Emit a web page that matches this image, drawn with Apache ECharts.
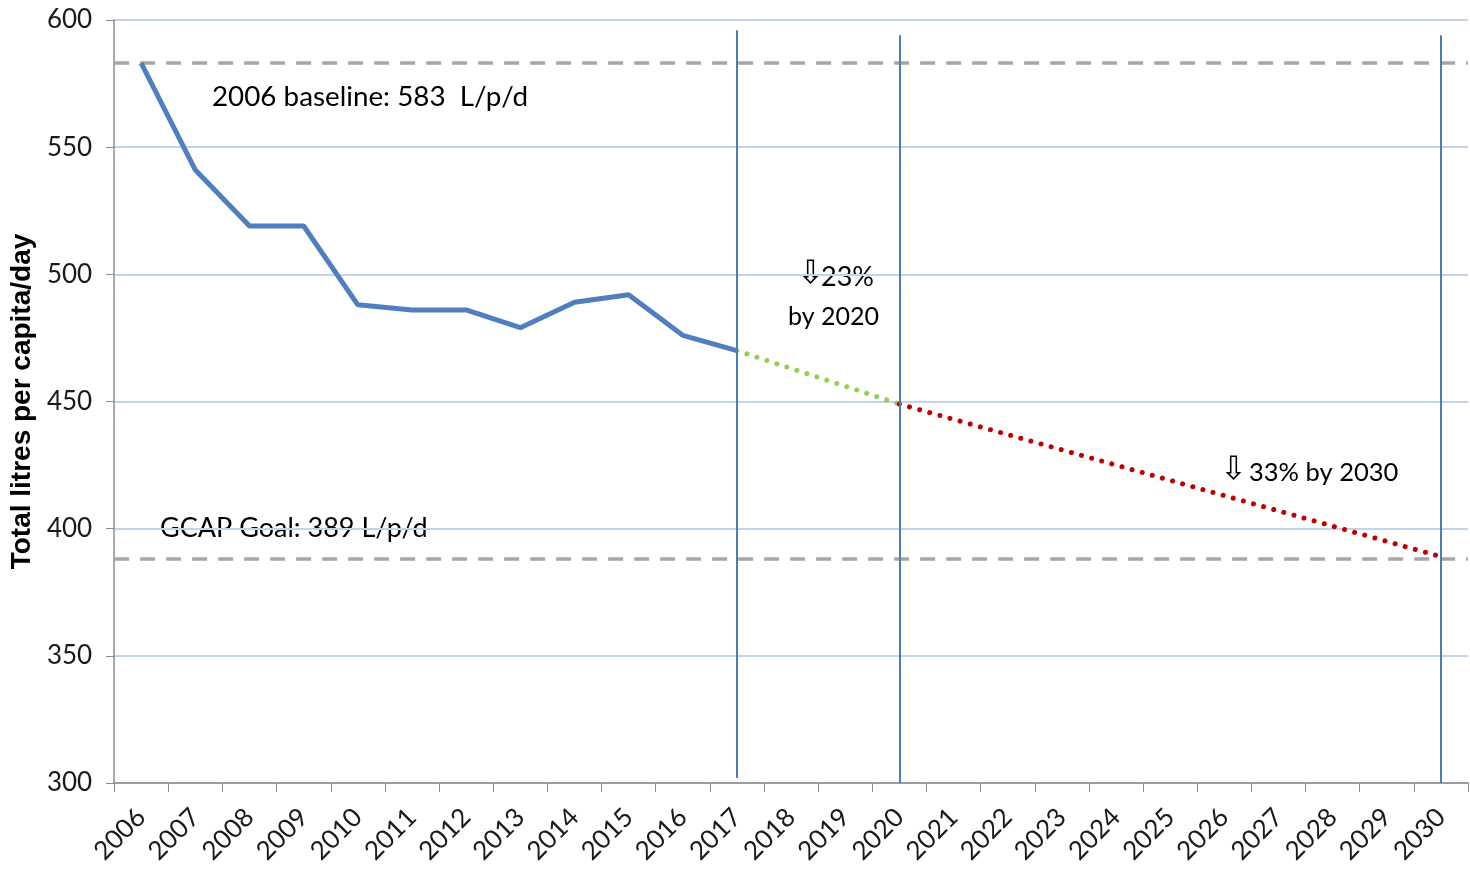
<!DOCTYPE html>
<html>
<head>
<meta charset="utf-8">
<script src="https://cdn.jsdelivr.net/npm/echarts@6/dist/echarts.min.js"></script>
<style>
html,body{margin:0;padding:0;background:#fff;}
#chart{width:1470px;height:877px;}
</style>
</head>
<body>
<div id="chart"></div>
<script>
// ---- data ----
const years = ['2006','2007','2008','2009','2010','2011','2012','2013','2014','2015','2016','2017','2018','2019','2020','2021','2022','2023','2024','2025','2026','2027','2028','2029','2030'];
const actual = [583, 541, 519, 519, 488, 486, 486, 479, 489, 492, 476, 470];
const target2020 = { '2017': 470, '2020': 449 };
const target2030 = { '2020': 449, '2030': 389 };
const baselineValue = 583;
const goalValue = 388;
const markerYears = ['2017', '2020', '2030'];
const markerTops = [596, 594, 594];
const markerBottoms = [302, 300, 300];
const yTicks = { min: 300, max: 600, interval: 50 };

function seriesFrom(map) {
  return years.map(y => (y in map ? map[y] : null));
}

const chart = echarts.init(document.getElementById('chart'));
const FONT = 'Lato, "Open Sans", sans-serif';
const ARROW_FONT = '"DejaVu Sans", sans-serif';

const option = {
  animation: false,
  backgroundColor: '#ffffff',
  grid: { left: 113, right: 2, top: 20, bottom: 94, containLabel: false },
  xAxis: {
    type: 'category',
    data: years,
    boundaryGap: true,
    axisLine: { lineStyle: { color: '#8c8c8c', width: 1.5 } },
    axisTick: { show: true, length: 9, lineStyle: { color: '#8c8c8c' } },
    axisLabel: { rotate: 45, fontSize: 26, color: '#1a1a1a', fontFamily: FONT, margin: 30, interval: 0 },
    splitLine: { show: false }
  },
  yAxis: {
    type: 'value',
    min: yTicks.min, max: yTicks.max, interval: yTicks.interval,
    name: 'Total litres per capita/day',
    nameLocation: 'middle',
    nameGap: 74,
    nameTextStyle: { fontSize: 28, fontWeight: 'bold', color: '#000', fontFamily: '"Liberation Sans", Arial, sans-serif' },
    axisLine: { show: true, lineStyle: { color: '#8c8c8c', width: 1.5 } },
    axisTick: { show: true, length: 8, lineStyle: { color: '#8c8c8c' } },
    axisLabel: { fontSize: 26, color: '#1a1a1a', fontFamily: FONT, margin: 22 },
    splitLine: { show: true, lineStyle: { color: '#c3d3ec', width: 2 } }
  },
  series: [
    {
      name: 'actual',
      type: 'line',
      data: actual,
      symbol: 'none',
      lineStyle: { color: '#4f7fbf', width: 5 },
      z: 5,
      markLine: {
        silent: true,
        symbol: 'none',
        label: { show: false },
        lineStyle: { color: '#a6a6a6', width: 3.5, type: [15, 11] },
        data: [
          { yAxis: baselineValue },
          { yAxis: goalValue }
        ]
      }
    },
    {
      name: 'to2020',
      type: 'line',
      data: seriesFrom(target2020),
      connectNulls: true,
      symbol: 'none',
      lineStyle: { color: '#92d050', width: 5, type: [0.01, 10.5], cap: 'round' },
      z: 4
    },
    {
      name: 'to2030',
      type: 'line',
      data: seriesFrom(target2030),
      connectNulls: true,
      symbol: 'none',
      lineStyle: { color: '#c00000', width: 5, type: [0.01, 10.5], cap: 'round' },
      z: 4,
      markLine: {
        silent: true,
        symbol: 'none',
        label: { show: false },
        lineStyle: { color: '#4a7ebb', width: 2, type: 'solid' },
        data: markerYears.map((y, i) => [
          { coord: [y, markerTops[i]] },
          { coord: [y, markerBottoms[i]] }
        ])
      }
    }
  ],
  graphic: [
    { type: 'text', left: 212, top: 83, style: { text: '2006 baseline: 583  L/p/d', fontSize: 27.8, fontFamily: FONT, fill: '#000' } },
    { type: 'text', left: 797, top: 259, style: { text: '⇩', fontSize: 32, fontFamily: ARROW_FONT, fill: '#000' } },
    { type: 'text', left: 821, top: 264, style: { text: '23%', fontSize: 27, fontFamily: FONT, fill: '#000' } },
    { type: 'text', left: 788, top: 304, style: { text: 'by 2020', fontSize: 25, fontFamily: FONT, fill: '#000' } },
    { type: 'text', left: 1220, top: 455, style: { text: '⇩', fontSize: 32, fontFamily: ARROW_FONT, fill: '#000' } },
    { type: 'text', left: 1249, top: 460, style: { text: '33% by 2030', fontSize: 25.5, fontFamily: FONT, fill: '#000' } },
    { type: 'text', left: 160, top: 515, style: { text: 'GCAP Goal: 389 L/p/d', fontSize: 27, fontFamily: FONT, fill: '#000' } }
  ]
};
chart.setOption(option);
</script>
</body>
</html>
